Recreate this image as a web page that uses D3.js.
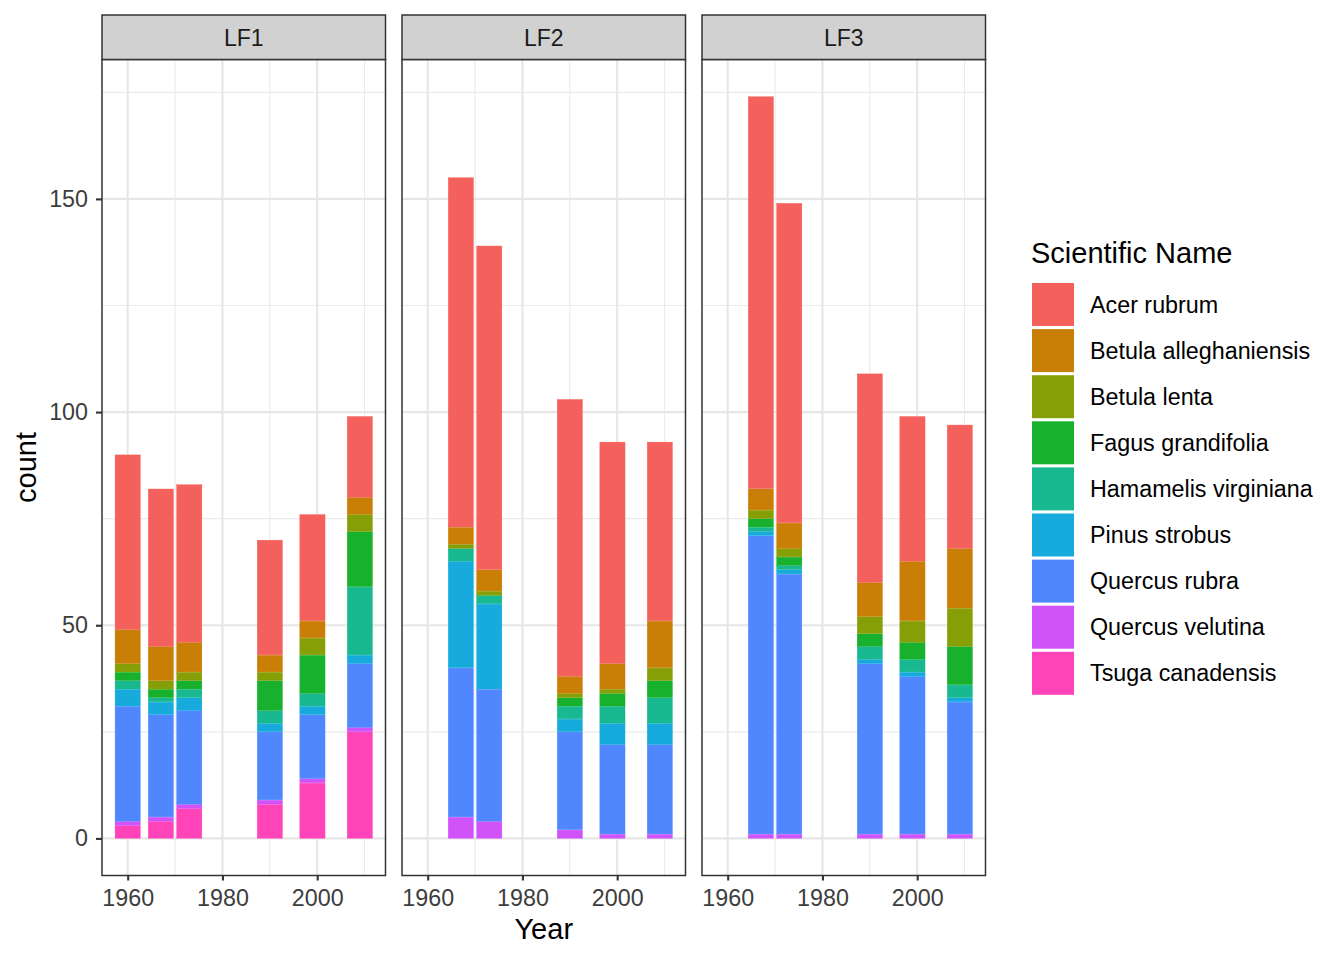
<!DOCTYPE html>
<html>
<head>
<meta charset="utf-8">
<script src="https://cdn.jsdelivr.net/npm/d3@7.9.0/dist/d3.min.js"></script>
<style>
  html, body { margin: 0; padding: 0; background: #fff; }
  svg { display: block; font-family: "Liberation Sans", Arial, sans-serif; }
</style>
</head>
<body>
<svg id="chart" width="1344" height="960"></svg>
<script>
// ---- data ----
const panels = ['LF1', 'LF2', 'LF3'];
const years = [1960, 1967, 1973, 1990, 1999, 2009];
const species = [
  'Acer rubrum', 'Betula alleghaniensis', 'Betula lenta', 'Fagus grandifolia',
  'Hamamelis virginiana', 'Pinus strobus', 'Quercus rubra', 'Quercus velutina',
  'Tsuga canadensis'
];
const speciesColors = ['#F4605C', '#C97F06', '#869F06', '#17B12D', '#18B891',
                       '#16ABDC', '#5087FF', '#D052F9', '#FF44B9'];

// counts per species (rows, same order as species) per year (columns); null = no survey
const countsLF1 = [
  [41, 37, 37, 27, 25, 19],
  [8, 8, 7, 4, 4, 4],
  [2, 2, 2, 2, 4, 4],
  [2, 2, 2, 7, 9, 13],
  [2, 1, 2, 3, 3, 16],
  [4, 3, 3, 2, 2, 2],
  [27, 24, 22, 16, 15, 15],
  [1, 1, 1, 1, 1, 1],
  [3, 4, 7, 8, 13, 25]
];
const countsLF2 = [
  [null, 82, 76, 65, 52, 42],
  [null, 4, 5, 4, 6, 11],
  [null, 1, 1, 1, 1, 3],
  [null, 0, 0, 2, 3, 4],
  [null, 3, 2, 3, 4, 6],
  [null, 25, 20, 3, 5, 5],
  [null, 35, 31, 23, 21, 21],
  [null, 5, 4, 2, 1, 1],
  [null, 0, 0, 0, 0, 0]
];
const countsLF3 = [
  [null, 92, 75, 49, 34, 29],
  [null, 5, 6, 8, 14, 14],
  [null, 2, 2, 4, 5, 9],
  [null, 2, 2, 3, 4, 9],
  [null, 1, 1, 3, 3, 3],
  [null, 1, 1, 1, 1, 1],
  [null, 70, 61, 40, 37, 31],
  [null, 1, 1, 1, 1, 1],
  [null, 0, 0, 0, 0, 0]
];
const panelCounts = [countsLF1, countsLF2, countsLF3];
const xTicks = [1960, 1980, 2000];
const xMinor = [1970, 1990, 2010];
const yTicks = [0, 50, 100, 150];
const yMinor = [25, 75, 125, 175];

// ---- layout ----
const svg = d3.select('#chart');
const panelW = 283.5, panelTop = 59.5, panelBottom = 875.5;
const panelLefts = [102, 402, 702];
const stripTop = 15;
const barWidth = 5.4; // 0.9 * resolution (6 yrs)
const font = '"Liberation Sans", Arial, sans-serif';

const color = d3.scaleOrdinal().domain(species).range(speciesColors);

// tables for stacking
const tables = panelCounts.map(rows =>
  years.map((yr, j) => {
    const row = { year: yr, present: rows[0][j] !== null };
    species.forEach((s, i) => row[s] = rows[i][j] || 0);
    return row;
  }).filter(r => r.present)
);

const maxTotal = d3.max(tables.flat(), r => d3.sum(species, s => r[s]));
const y = d3.scaleLinear()
  .domain([-0.05 * maxTotal, maxTotal * 1.05])
  .range([panelBottom, panelTop]);

const xLo = d3.min(years) - barWidth / 2, xHi = d3.max(years) + barWidth / 2;
const xPad = (xHi - xLo) * 0.05;

// bottom species first in stack
const stack = d3.stack().keys(species.slice().reverse());

panels.forEach((name, p) => {
  const left = panelLefts[p];
  const x = d3.scaleLinear().domain([xLo - xPad, xHi + xPad]).range([left, left + panelW]);
  const g = svg.append('g');

  g.append('rect').attr('x', left).attr('y', panelTop)
    .attr('width', panelW).attr('height', panelBottom - panelTop).attr('fill', '#fff');

  // grid
  g.selectAll('.ymin').data(yMinor).enter().append('line')
    .attr('x1', left).attr('x2', left + panelW)
    .attr('y1', d => y(d)).attr('y2', d => y(d))
    .attr('stroke', '#EBEBEB').attr('stroke-width', 1.1);
  g.selectAll('.xmin').data(xMinor).enter().append('line')
    .attr('y1', panelTop).attr('y2', panelBottom)
    .attr('x1', d => x(d)).attr('x2', d => x(d))
    .attr('stroke', '#EBEBEB').attr('stroke-width', 1.1);
  g.selectAll('.ymaj').data(yTicks).enter().append('line')
    .attr('x1', left).attr('x2', left + panelW)
    .attr('y1', d => y(d)).attr('y2', d => y(d))
    .attr('stroke', '#E6E6E6').attr('stroke-width', 2.1);
  g.selectAll('.xmaj').data(xTicks).enter().append('line')
    .attr('y1', panelTop).attr('y2', panelBottom)
    .attr('x1', d => x(d)).attr('x2', d => x(d))
    .attr('stroke', '#E6E6E6').attr('stroke-width', 2.1);

  // bars
  const series = stack(tables[p]);
  g.selectAll('.layer').data(series).enter().append('g')
    .attr('fill', d => color(d.key))
    .attr('stroke', d => color(d.key)).attr('stroke-width', 0.4)
    .selectAll('rect').data(d => d.filter(v => v[1] > v[0])).enter().append('rect')
    .attr('x', d => x(d.data.year - barWidth / 2) + 0.2)
    .attr('width', d => x(d.data.year + barWidth / 2) - x(d.data.year - barWidth / 2) - 0.4)
    .attr('y', d => y(d[1]) + 0.2)
    .attr('height', d => y(d[0]) - y(d[1]) - 0.4);

  // border
  g.append('rect').attr('x', left).attr('y', panelTop)
    .attr('width', panelW).attr('height', panelBottom - panelTop)
    .attr('fill', 'none').attr('stroke', '#333').attr('stroke-width', 1.5);

  // strip
  g.append('rect').attr('x', left).attr('y', stripTop)
    .attr('width', panelW).attr('height', panelTop - stripTop)
    .attr('fill', '#D1D1D1').attr('stroke', '#333').attr('stroke-width', 1.5);
  g.append('text').attr('x', left + panelW / 2).attr('y', (stripTop + panelTop) / 2 + 8.5)
    .attr('text-anchor', 'middle').attr('font-size', 23).attr('fill', '#1A1A1A')
    .text(name);

  // x axis
  const xAxis = d3.axisBottom(x).tickValues(xTicks).tickFormat(d3.format('d'))
    .tickSize(5).tickPadding(9);
  const ax = g.append('g').attr('transform', `translate(0,${panelBottom})`).call(xAxis);
  ax.select('.domain').remove();
  ax.selectAll('line').attr('stroke', '#333').attr('stroke-width', 2.1);
  ax.selectAll('text').attr('font-size', 23.3).attr('fill', '#3D3D3D')
    .attr('font-family', font);

  if (p === 0) {
    const yAxis = d3.axisLeft(y).tickValues(yTicks).tickSize(6).tickPadding(8);
    const ay = g.append('g').attr('transform', `translate(${left},0)`).call(yAxis);
    ay.select('.domain').remove();
    ay.selectAll('line').attr('stroke', '#333').attr('stroke-width', 2.1);
    ay.selectAll('text').attr('font-size', 23.3).attr('fill', '#3D3D3D')
      .attr('font-family', font);
  }
});

// axis titles
svg.append('text').attr('x', panelLefts[1] + panelW / 2).attr('y', 939)
  .attr('text-anchor', 'middle').attr('font-size', 29).attr('fill', '#000').text('Year');
svg.append('text').attr('transform', `translate(36,${(panelTop + panelBottom) / 2}) rotate(-90)`)
  .attr('text-anchor', 'middle').attr('font-size', 29).attr('fill', '#000').text('count');

// legend
const legend = svg.append('g').attr('transform', 'translate(1031,0)');
legend.append('text').attr('x', 0).attr('y', 263).attr('font-size', 29).attr('fill', '#000')
  .text('Scientific Name');
const item = legend.selectAll('.item').data(species).enter().append('g')
  .attr('transform', (d, i) => `translate(0,${304.5 + i * 46.1})`);
item.append('rect').attr('x', 1).attr('y', -21.5).attr('width', 42).attr('height', 43)
  .attr('fill', d => color(d));
item.append('text').attr('x', 59).attr('y', 8).attr('font-size', 23.3).attr('fill', '#000')
  .text(d => d);
</script>
</body>
</html>
